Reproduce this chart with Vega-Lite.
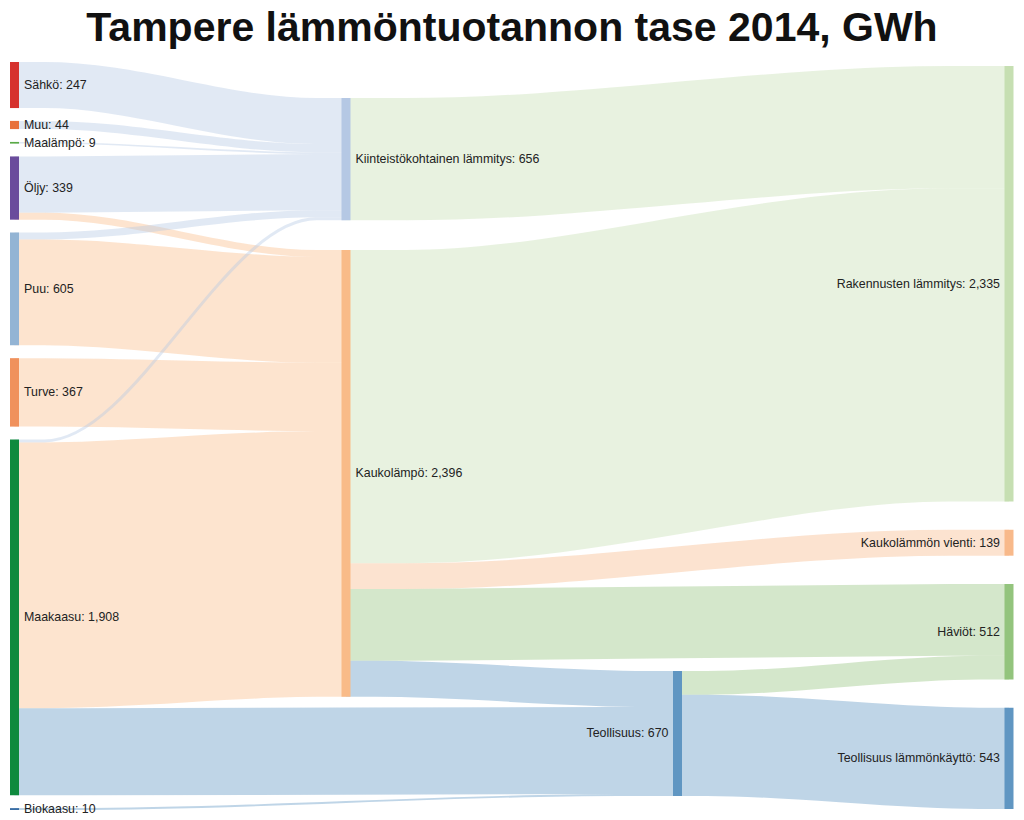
{
  "$schema": "https://vega.github.io/schema/vega-lite/v6.json",
  "width": 1004,
  "height": 760,
  "autosize": {"type": "none"},
  "padding": {"left": 10, "top": 55, "right": 10, "bottom": 5},
  "background": "white",
  "config": {"view": {"stroke": null}},
  "title": {
    "text": "Tampere lämmöntuotannon tase 2014, GWh",
    "font": "Liberation Sans",
    "fontSize": 41,
    "fontWeight": "bold",
    "anchor": "middle",
    "frame": "group",
    "offset": 5,
    "color": "#111111"
  },
  "datasets": {
    "nodes": [
      {"node": "Sähkö", "col": 0, "order": 1, "value": 247},
      {"node": "Muu", "col": 0, "order": 2, "value": 44},
      {"node": "Maalämpö", "col": 0, "order": 3, "value": 9},
      {"node": "Öljy", "col": 0, "order": 4, "value": 339},
      {"node": "Puu", "col": 0, "order": 5, "value": 605},
      {"node": "Turve", "col": 0, "order": 6, "value": 367},
      {"node": "Maakaasu", "col": 0, "order": 7, "value": 1908},
      {"node": "Biokaasu", "col": 0, "order": 8, "value": 10},
      {"node": "Kiinteistökohtainen lämmitys", "col": 1, "order": 1, "value": 656},
      {"node": "Kaukolämpö", "col": 1, "order": 2, "value": 2396},
      {"node": "Teollisuus", "col": 2, "order": 1, "value": 670},
      {"node": "Rakennusten lämmitys", "col": 3, "order": 1, "value": 2335},
      {"node": "Kaukolämmön vienti", "col": 3, "order": 2, "value": 139},
      {"node": "Häviöt", "col": 3, "order": 3, "value": 512},
      {"node": "Teollisuus lämmönkäyttö", "col": 3, "order": 4, "value": 543}
    ],
    "links": [
      {"source": "Sähkö", "target": "Kiinteistökohtainen lämmitys", "value": 247},
      {"source": "Muu", "target": "Kiinteistökohtainen lämmitys", "value": 44},
      {"source": "Maalämpö", "target": "Kiinteistökohtainen lämmitys", "value": 9},
      {"source": "Öljy", "target": "Kiinteistökohtainen lämmitys", "value": 302},
      {"source": "Öljy", "target": "Kaukolämpö", "value": 37},
      {"source": "Puu", "target": "Kiinteistökohtainen lämmitys", "value": 38},
      {"source": "Puu", "target": "Kaukolämpö", "value": 567},
      {"source": "Turve", "target": "Kaukolämpö", "value": 367},
      {"source": "Maakaasu", "target": "Kiinteistökohtainen lämmitys", "value": 16},
      {"source": "Maakaasu", "target": "Kaukolämpö", "value": 1425},
      {"source": "Maakaasu", "target": "Teollisuus", "value": 467},
      {"source": "Biokaasu", "target": "Teollisuus", "value": 10},
      {"source": "Kiinteistökohtainen lämmitys", "target": "Rakennusten lämmitys", "value": 656},
      {"source": "Kaukolämpö", "target": "Rakennusten lämmitys", "value": 1679},
      {"source": "Kaukolämpö", "target": "Kaukolämmön vienti", "value": 139},
      {"source": "Kaukolämpö", "target": "Häviöt", "value": 385},
      {"source": "Kaukolämpö", "target": "Teollisuus", "value": 193},
      {"source": "Teollisuus", "target": "Häviöt", "value": 127},
      {"source": "Teollisuus", "target": "Teollisuus lämmönkäyttö", "value": 543}
    ]
  },
  "layer": [
    {
      "data": {"name": "links"},
      "transform": [
        {"lookup": "source", "from": {"data": {"name": "nodes"}, "key": "node", "fields": ["col", "order"]}, "as": ["scol", "sorder"]},
        {"lookup": "target", "from": {"data": {"name": "nodes"}, "key": "node", "fields": ["col", "order"]}, "as": ["tcol", "torder"]},
        {"joinaggregate": [{"op": "sum", "field": "value", "as": "sTot"}], "groupby": ["source"]},
        {"joinaggregate": [{"op": "sum", "field": "value", "as": "tTot"}], "groupby": ["target"]},
        {"window": [{"op": "sum", "field": "value", "as": "sCumN"}, {"op": "dense_rank", "as": "sIdx"}], "sort": [{"field": "sorder"}], "groupby": ["scol"], "frame": [null, 0]},
        {"window": [{"op": "sum", "field": "value", "as": "tCumN"}, {"op": "dense_rank", "as": "tIdx"}], "sort": [{"field": "torder"}], "groupby": ["tcol"], "frame": [null, 0]},
        {"calculate": "[37.5, 230.6, 3303, 59][datum.scol] + datum.sCumN - datum.sTot + [68.8, 159, 0, 151.6][datum.scol] * (datum.sIdx - 1)", "as": "sny0"},
        {"calculate": "[37.5, 230.6, 3303, 59][datum.tcol] + datum.tCumN - datum.tTot + [68.8, 159, 0, 151.6][datum.tcol] * (datum.tIdx - 1)", "as": "tny0"},
        {"window": [{"op": "sum", "field": "value", "as": "sCumL"}], "sort": [{"field": "tny0"}], "groupby": ["source"], "frame": [null, 0], "ignorePeers": true},
        {"window": [{"op": "sum", "field": "value", "as": "tCumL"}], "sort": [{"field": "sny0"}], "groupby": ["target"], "frame": [null, 0], "ignorePeers": true},
        {"calculate": "datum.sny0 + datum.sCumL - datum.value / 2", "as": "p0"},
        {"calculate": "datum.p0", "as": "p1"},
        {"calculate": "datum.tny0 + datum.tCumL - datum.value / 2", "as": "p3"},
        {"calculate": "datum.p3", "as": "p2"},
        {"calculate": "datum.value * 760 / 4075", "as": "w"},
        {"calculate": "datum.source + ' > ' + datum.target", "as": "link"},
        {"fold": ["p0", "p1", "p2", "p3"], "as": ["k", "yy"]},
        {"calculate": "datum.k == 'p0' ? datum.scol : datum.k == 'p1' ? datum.scol + 0.09 * (datum.tcol - datum.scol) : datum.k == 'p2' ? datum.tcol - 0.09 * (datum.tcol - datum.scol) : datum.tcol", "as": "xx"}
      ],
      "mark": {"type": "line", "interpolate": "monotone", "opacity": 0.4, "strokeCap": "butt", "strokeJoin": "round", "clip": true},
      "encoding": {
        "x": {"field": "xx", "type": "quantitative", "axis": null, "scale": {"domain": [-0.013575, 3.015083], "nice": false, "zero": false}},
        "y": {"field": "yy", "type": "quantitative", "axis": null, "scale": {"domain": [0, 4075], "reverse": true, "nice": false, "zero": false}},
        "detail": {"field": "link"},
        "color": {
          "field": "target", "type": "nominal", "legend": null,
          "scale": {
            "domain": ["Sähkö", "Muu", "Maalämpö", "Öljy", "Puu", "Turve", "Maakaasu", "Biokaasu", "Kiinteistökohtainen lämmitys", "Kaukolämpö", "Teollisuus", "Rakennusten lämmitys", "Kaukolämmön vienti", "Häviöt", "Teollisuus lämmönkäyttö"],
            "range": ["#d6322e", "#e8703a", "#5aaa46", "#6a4c9c", "#93b4d4", "#f0915c", "#0f8a3e", "#3a6ea5", "#b5c8e4", "#f9bb88", "#6096c2", "#c6dfb2", "#f8b98a", "#93c47d", "#6096c2"]
          }
        },
        "strokeWidth": {"field": "w", "type": "quantitative", "scale": null, "legend": null}
      }
    },
    {
      "data": {"name": "nodes"},
      "transform": [
        {"window": [{"op": "sum", "field": "value", "as": "cum"}, {"op": "row_number", "as": "idx"}], "sort": [{"field": "order"}], "groupby": ["col"], "frame": [null, 0]},
        {"calculate": "[37.5, 230.6, 3303, 59][datum.col] + datum.cum - datum.value + [68.8, 159, 0, 151.6][datum.col] * (datum.idx - 1)", "as": "y0"},
        {"calculate": "datum.y0 + datum.value", "as": "y1"},
        {"calculate": "(datum.y0 + datum.y1) / 2", "as": "ym"},
        {"calculate": "datum.node + ': ' + format(datum.value, ',')", "as": "label"}
      ],
      "layer": [
        {
          "mark": {"type": "rule", "strokeWidth": 9, "strokeCap": "butt"},
          "encoding": {
            "x": {"field": "col", "type": "quantitative", "axis": null, "scale": {"domain": [-0.013575, 3.015083], "nice": false, "zero": false}},
            "y": {"field": "y0", "type": "quantitative", "axis": null, "scale": {"domain": [0, 4075], "reverse": true, "nice": false, "zero": false}},
            "y2": {"field": "y1"},
            "color": {
              "field": "node", "type": "nominal", "legend": null,
              "scale": {
                "domain": ["Sähkö", "Muu", "Maalämpö", "Öljy", "Puu", "Turve", "Maakaasu", "Biokaasu", "Kiinteistökohtainen lämmitys", "Kaukolämpö", "Teollisuus", "Rakennusten lämmitys", "Kaukolämmön vienti", "Häviöt", "Teollisuus lämmönkäyttö"],
                "range": ["#d6322e", "#e8703a", "#5aaa46", "#6a4c9c", "#93b4d4", "#f0915c", "#0f8a3e", "#3a6ea5", "#b5c8e4", "#f9bb88", "#6096c2", "#c6dfb2", "#f8b98a", "#93c47d", "#6096c2"]
              }
            }
          }
        },
        {
          "transform": [{"filter": "datum.col < 2"}],
          "mark": {"type": "text", "align": "left", "baseline": "middle", "dx": 9.5, "font": "Liberation Sans", "fontSize": 12.4, "color": "#222222"},
          "encoding": {
            "x": {"field": "col", "type": "quantitative"},
            "y": {"field": "ym", "type": "quantitative"},
            "text": {"field": "label"}
          }
        },
        {
          "transform": [{"filter": "datum.col >= 2"}],
          "mark": {"type": "text", "align": "right", "baseline": "middle", "dx": -9, "font": "Liberation Sans", "fontSize": 12.4, "color": "#222222"},
          "encoding": {
            "x": {"field": "col", "type": "quantitative"},
            "y": {"field": "ym", "type": "quantitative"},
            "text": {"field": "label"}
          }
        }
      ]
    }
  ]
}
